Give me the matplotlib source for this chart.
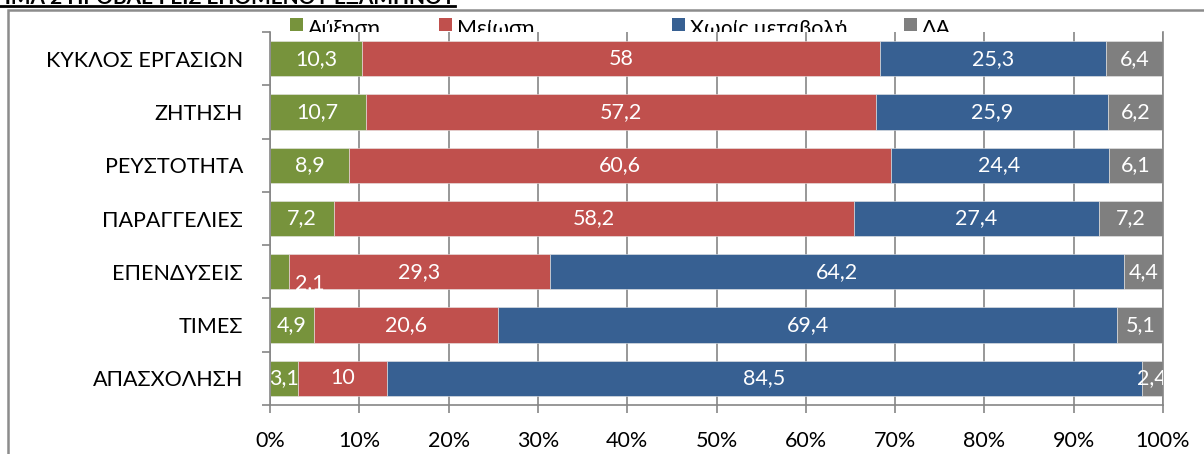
import matplotlib
matplotlib.use("Agg")
import matplotlib.pyplot as plt
from matplotlib.patches import Rectangle
from matplotlib.lines import Line2D
import numpy as np

plt.rcParams['font.family'] = ['Lato', 'Open Sans', 'DejaVu Sans']

# data
categories = ["ΚΥΚΛΟΣ ΕΡΓΑΣΙΩΝ", "ΖΗΤΗΣΗ", "ΡΕΥΣΤΟΤΗΤΑ", "ΠΑΡΑΓΓΕΛΙΕΣ",
              "ΕΠΕΝΔΥΣΕΙΣ", "ΤΙΜΕΣ", "ΑΠΑΣΧΟΛΗΣΗ"]
series_names = ["Αύξηση", "Μείωση", "Χωρίς μεταβολή", "ΔΑ"]
increase = [10.3, 10.7, 8.9, 7.2, 2.1, 4.9, 3.1]
decrease = [58, 57.2, 60.6, 58.2, 29.3, 20.6, 10]
no_change = [25.3, 25.9, 24.4, 27.4, 64.2, 69.4, 84.5]
no_answer = [6.4, 6.2, 6.1, 7.2, 4.4, 5.1, 2.4]
x_ticks = [0, 10, 20, 30, 40, 50, 60, 70, 80, 90, 100]
title = "ΣΧΗΜΑ 2 ΠΡΟΒΛΕΨΕΙΣ ΕΠΟΜΕΝΟΥ ΕΞΑΜΗΝΟΥ"

colors = ["#77933C", "#C0504D", "#376092", "#7F7F7F"]
grid_col = "#868686"
fs = 15.5

W, H = 1204, 454
fig = plt.figure(figsize=(W / 100, H / 100), dpi=100)
ax = fig.add_axes([270 / W, 1 - 405 / H, (1163 - 270) / W, (405 - 32) / H])
ax.set_facecolor("white")

series = np.array([increase, decrease, no_change, no_answer], dtype=float)
totals = series.sum(axis=0)
pct = series / totals * 100
y = np.arange(len(categories))
left = np.zeros(len(categories))
for i, name in enumerate(series_names):
    bars = ax.barh(y, pct[i], left=left, height=0.66, color=colors[i],
                   edgecolor="#e8e8e8", linewidth=0.4, label=name, zorder=2)
    for j, b in enumerate(bars):
        cx = left[j] + pct[i][j] / 2
        dx, dy = 0, 0
        # Excel nudged this tiny label off its segment
        if i == 0 and categories[j] == "ΕΠΕΝΔΥΣΕΙΣ":
            dx, dy = 22, -8
        ax.annotate(f"{series[i][j]:g}".replace(".", ","), (cx, y[j]),
                    xytext=(dx, dy), textcoords="offset points",
                    ha="center", va="center", color="white", fontsize=fs,
                    clip_on=True, zorder=3)
    left += pct[i]

ax.set_xlim(0, 100)
ax.set_ylim(len(categories) - 0.5, -0.5)
ax.set_xticks(x_ticks)
ax.set_xticklabels([f"{t}%" for t in x_ticks], fontsize=fs)
ax.set_yticks(y)
ax.set_yticklabels(categories, fontsize=fs)
ax.set_yticks(np.arange(len(categories) + 1) - 0.5, minor=True)
ax.tick_params(axis="y", which="major", length=0, pad=19.5)
ax.tick_params(axis="y", which="minor", length=6, color=grid_col, width=1.2)
ax.tick_params(axis="x", length=6, color=grid_col, width=1.2, pad=13)
ax.grid(axis="x", color=grid_col, linewidth=1.2, zorder=1)
ax.set_axisbelow(True)
for side in ["left", "bottom", "right"]:
    ax.spines[side].set_color(grid_col)
    ax.spines[side].set_linewidth(1.2)
ax.spines["top"].set_visible(False)

# legend entries sit behind the plot area, as in the original (x in px)
legend_x = [290, 439, 672, 904]
for lx, c, name in zip(legend_x, colors, series_names):
    fig.patches.append(Rectangle((lx / W, 1 - 31 / H), 13 / W, 13 / H,
                                 transform=fig.transFigure, facecolor=c,
                                 edgecolor="none", zorder=-1))
    fig.text((lx + 18) / W, 1 - 35 / H, name, ha="left", va="baseline",
             fontsize=fs, zorder=-1)

# chart frame
fig.patches.append(Rectangle((8 / W, -0.1), 1.2, 1 - 10 / H + 0.1,
                             transform=fig.transFigure, fill=False,
                             edgecolor="#8c8c8c", linewidth=1.8, zorder=-2))
# cropped underlined title
fig.text(455 / W, 1 - 4 / H, title, ha="right", va="baseline",
         fontsize=15, fontweight="bold")
fig.lines.append(Line2D([0, 455 / W], [1 - 5.5 / H, 1 - 5.5 / H],
                        transform=fig.transFigure, color="black", linewidth=2))

fig.savefig("out.png", dpi=100)
